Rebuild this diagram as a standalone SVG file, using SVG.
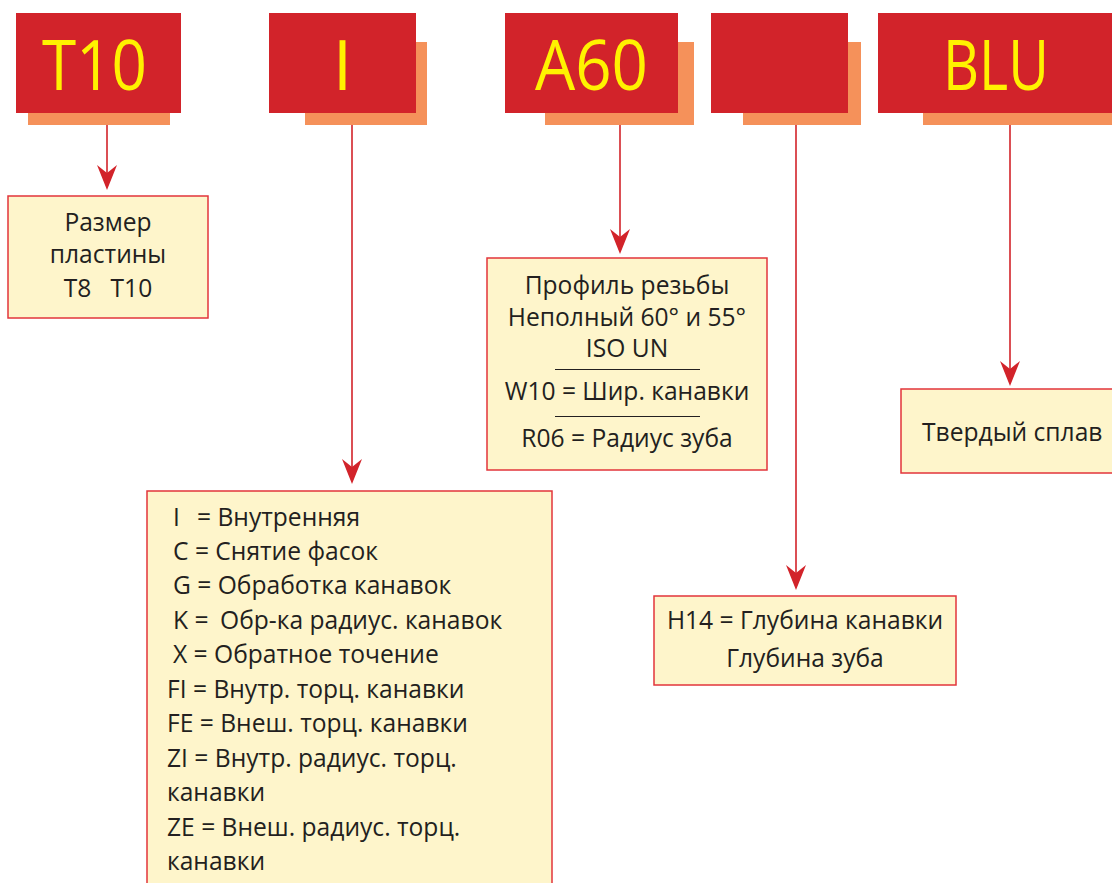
<svg xmlns="http://www.w3.org/2000/svg" width="1112" height="883" viewBox="0 0 1112 883">
<style>
.shadow{fill:#F5915A}
.head{fill:#D2232A}
.code{font-family:"Open Sans","Liberation Sans",sans-serif;font-size:70px;fill:#FFF200;text-anchor:middle}
.box{fill:#FEF5CB;stroke:#E2353B;stroke-width:1.5}
.t{font-family:"Open Sans","Liberation Sans",sans-serif;font-size:24.6px;fill:#231F20}
.c{text-anchor:middle}
.conn{stroke:#D2232A;stroke-width:1.6;fill:none}
.rule{stroke:#231F20;stroke-width:1}
</style>
<rect x="0" y="0" width="1112" height="883" fill="#FFFFFF"/>

<g id="code-t10">
<rect class="shadow" x="28" y="42" width="142" height="83"/>
<rect class="head" x="16" y="13" width="165" height="100"/>
<text class="code" x="94.5" y="90" textLength="105" lengthAdjust="spacingAndGlyphs">T10</text>
</g>
<g id="code-i">
<rect class="shadow" x="305" y="42" width="122" height="83"/>
<rect class="head" x="269" y="13" width="147" height="100"/>
<text class="code" x="342.5" y="90">I</text>
</g>
<g id="code-a60">
<rect class="shadow" x="545" y="42" width="149" height="83"/>
<rect class="head" x="505" y="13" width="173" height="100"/>
<text class="code" x="591.5" y="90" textLength="113" lengthAdjust="spacingAndGlyphs">A60</text>
</g>
<g id="code-empty">
<rect class="shadow" x="743" y="42" width="118" height="83"/>
<rect class="head" x="711" y="13" width="137" height="100"/>
</g>
<g id="code-blu">
<rect class="shadow" x="923" y="42" width="200" height="83"/>
<rect class="head" x="878" y="13" width="240" height="100"/>
<text class="code" x="996" y="90" textLength="106" lengthAdjust="spacingAndGlyphs">BLU</text>
</g>

<g id="connectors">
<line class="conn" x1="107" y1="125" x2="107" y2="175"/>
<line class="conn" x1="352" y1="125" x2="352" y2="470"/>
<line class="conn" x1="620" y1="125" x2="620" y2="240"/>
<line class="conn" x1="796" y1="125" x2="796" y2="575"/>
<line class="conn" x1="1010" y1="125" x2="1010" y2="372"/>
<path d="M107,190 L97,165 L107,173 L117,165 Z" class="head"/>
<path d="M352,484 L342,459 L352,467 L362,459 Z" class="head"/>
<path d="M620,254 L610,229 L620,237 L630,229 Z" class="head"/>
<path d="M796,590 L786,565 L796,573 L806,565 Z" class="head"/>
<path d="M1010,386 L1000,361 L1010,369 L1020,361 Z" class="head"/>
</g>

<g id="node-size">
<rect class="box" x="8" y="196" width="200" height="122"/>
<text class="t c" x="108" y="231">Размер</text>
<text class="t c" x="108" y="263">пластины</text>
<text class="t c" x="108" y="297" xml:space="preserve">T8   T10</text>
</g>

<g id="node-profile">
<rect class="box" x="487" y="258" width="280" height="212"/>
<text class="t c" x="627" y="294">Профиль резьбы</text>
<text class="t c" x="627" y="326">Неполный 60° и 55°</text>
<text class="t c" x="627" y="357">ISO UN</text>
<line class="rule" x1="555" y1="369.5" x2="700" y2="369.5"/>
<text class="t c" x="627" y="400">W10 = Шир. канавки</text>
<line class="rule" x1="555" y1="416.5" x2="700" y2="416.5"/>
<text class="t c" x="627" y="447">R06 = Радиус зуба</text>
</g>

<g id="node-type">
<rect class="box" x="147" y="491" width="405" height="400"/>
<text class="t" y="526"><tspan x="173">I</tspan><tspan x="197">= Внутренняя</tspan></text>
<text class="t" x="173" y="560">C = Снятие фасок</text>
<text class="t" x="173" y="594">G = Обработка канавок</text>
<text class="t" y="629"><tspan x="173">K =</tspan><tspan x="220">Обр-ка радиус. канавок</tspan></text>
<text class="t" x="173" y="663">X = Обратное точение</text>
<text class="t" x="167" y="698">FI = Внутр. торц. канавки</text>
<text class="t" x="167" y="732">FE = Внеш. торц. канавки</text>
<text class="t" x="167" y="767">ZI = Внутр. радиус. торц.</text>
<text class="t" x="167" y="801">канавки</text>
<text class="t" x="167" y="836">ZE = Внеш. радиус. торц.</text>
<text class="t" x="167" y="870">канавки</text>
</g>

<g id="node-depth">
<rect class="box" x="654" y="596" width="302" height="89"/>
<text class="t c" x="805" y="629">H14 = Глубина канавки</text>
<text class="t c" x="805" y="667">Глубина зуба</text>
</g>

<g id="node-material">
<rect class="box" x="901" y="389" width="220" height="84"/>
<text class="t" x="922" y="441">Твердый сплав</text>
</g>
</svg>
